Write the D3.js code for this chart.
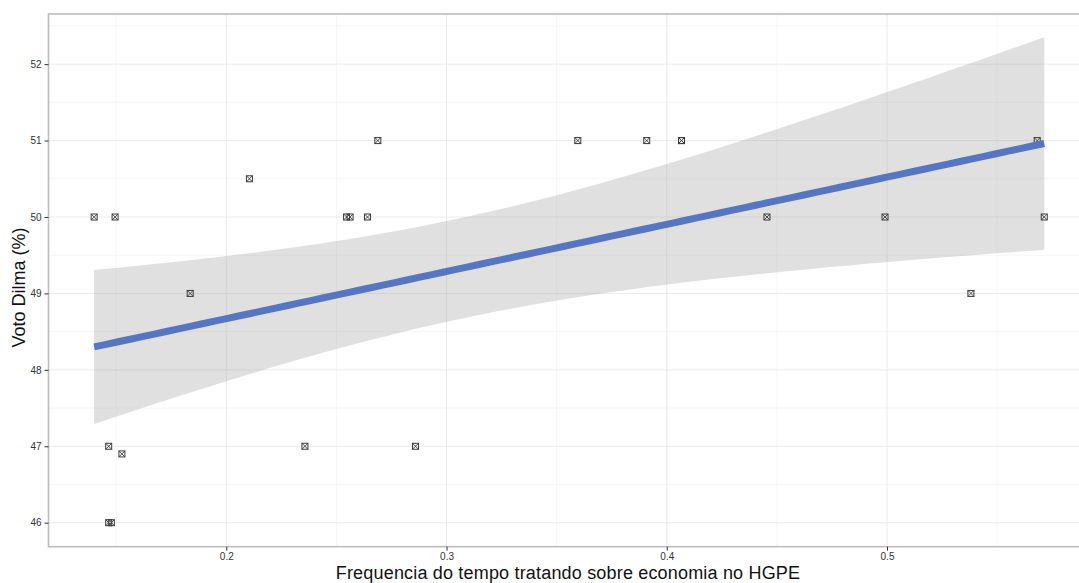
<!DOCTYPE html>
<html>
<head>
<meta charset="utf-8">
<script src="https://cdn.jsdelivr.net/npm/d3@7"></script>
<style>
  html, body { margin: 0; padding: 0; background: #fff; overflow: hidden; }
  svg { display: block; }
</style>
</head>
<body>
<svg id="chart" width="1079" height="583"></svg>
<script>
// Share of HGPE time spent on the economy vs. Dilma's vote share
const freqEconomia = [0.1400, 0.1495, 0.1466, 0.1526, 0.1466, 0.1478, 0.1836, 0.2105,
                      0.2357, 0.2546, 0.2562, 0.2641, 0.2688, 0.2859, 0.3596, 0.3909,
                      0.4067, 0.4067, 0.4455, 0.4991, 0.5381, 0.5682, 0.5714];
const votoDilma    = [50, 50, 47, 46.9, 46, 46, 49, 50.5,
                      47, 50, 50, 50, 51, 47, 51, 51,
                      51, 51, 50, 50, 49, 51, 50];

const xTicks = [0.2, 0.3, 0.4, 0.5];
const xMinor = [0.15, 0.25, 0.35, 0.45, 0.55];
const yTicks = [46, 47, 48, 49, 50, 51, 52];
const yMinor = [46.5, 47.5, 48.5, 49.5, 50.5, 51.5, 52.5];

const xTitle = "Frequencia do tempo tratando sobre economia no HGPE";
const yTitle = "Voto Dilma (%)";

// t quantile (0.975) for n - 2 = 21 degrees of freedom
const tCrit = 2.0796;

const svg = d3.select("#chart");

const panel = { left: 48.5, top: 14, right: 1092, bottom: 546.7 };

const x = d3.scaleLinear().domain([0.2, 0.5]).range([226.3, 887]);
const y = d3.scaleLinear().domain([46, 50]).range([522.7, 217]);

// panel background and grid
svg.append("rect")
  .attr("x", panel.left).attr("y", panel.top)
  .attr("width", panel.right - panel.left).attr("height", panel.bottom - panel.top)
  .attr("fill", "#fff");

const grid = svg.append("g");
grid.selectAll(".xminor").data(xMinor).join("line")
  .attr("x1", d => x(d)).attr("x2", d => x(d))
  .attr("y1", panel.top).attr("y2", panel.bottom)
  .attr("stroke", "#f6f6f6").attr("stroke-width", 1);
grid.selectAll(".yminor").data(yMinor.filter(v => y(v) > panel.top)).join("line")
  .attr("y1", d => y(d)).attr("y2", d => y(d))
  .attr("x1", panel.left).attr("x2", panel.right)
  .attr("stroke", "#f6f6f6").attr("stroke-width", 1);
grid.selectAll(".xmajor").data(xTicks).join("line")
  .attr("x1", d => x(d)).attr("x2", d => x(d))
  .attr("y1", panel.top).attr("y2", panel.bottom)
  .attr("stroke", "#ebebeb").attr("stroke-width", 1);
grid.selectAll(".ymajor").data(yTicks).join("line")
  .attr("y1", d => y(d)).attr("y2", d => y(d))
  .attr("x1", panel.left).attr("x2", panel.right)
  .attr("stroke", "#ebebeb").attr("stroke-width", 1);

// linear fit with 95% confidence band
const pts = freqEconomia.map((v, i) => [v, votoDilma[i]]);
const n = pts.length;
const mx = d3.mean(pts, d => d[0]);
const my = d3.mean(pts, d => d[1]);
const sxx = d3.sum(pts, d => (d[0] - mx) ** 2);
const sxy = d3.sum(pts, d => (d[0] - mx) * (d[1] - my));
const slope = sxy / sxx;
const intercept = my - slope * mx;
const rss = d3.sum(pts, d => (d[1] - (intercept + slope * d[0])) ** 2);
const s = Math.sqrt(rss / (n - 2));

const [xLo, xHi] = d3.extent(freqEconomia);
const fit = d3.range(80).map(i => {
  const xv = xLo + (xHi - xLo) * i / 79;
  const yv = intercept + slope * xv;
  const se = s * Math.sqrt(1 / n + (xv - mx) ** 2 / sxx);
  return { x: xv, y: yv, lo: yv - tCrit * se, hi: yv + tCrit * se };
});

svg.append("path")
  .datum(fit)
  .attr("d", d3.area().x(d => x(d.x)).y0(d => y(d.lo)).y1(d => y(d.hi)))
  .attr("fill", "#999").attr("fill-opacity", 0.3);

// points: square with a cross
const pg = svg.append("g");
const h = 3;
pg.selectAll("g").data(pts).join("g")
  .attr("transform", d => `translate(${x(d[0])},${y(d[1])})`)
  .each(function () {
    const g = d3.select(this);
    g.append("rect").attr("x", -h).attr("y", -h).attr("width", 2 * h).attr("height", 2 * h)
      .attr("fill", "none").attr("stroke", "#3a3a3a").attr("stroke-width", 1);
    g.append("path").attr("d", `M${-h},${-h}L${h},${h}M${-h},${h}L${h},${-h}`)
      .attr("stroke", "#3a3a3a").attr("stroke-width", 0.9);
  });

svg.append("path")
  .datum(fit)
  .attr("d", d3.line().x(d => x(d.x)).y(d => y(d.y)))
  .attr("fill", "none").attr("stroke", "#5676c2").attr("stroke-width", 7);

// panel border
svg.append("rect")
  .attr("x", panel.left).attr("y", panel.top)
  .attr("width", panel.right - panel.left).attr("height", panel.bottom - panel.top)
  .attr("fill", "none").attr("stroke", "#bdbdbd").attr("stroke-width", 1.6);

// axes
const xAxis = svg.append("g")
  .attr("transform", `translate(0,${panel.bottom})`)
  .call(d3.axisBottom(x).tickValues(xTicks).tickSize(4).tickPadding(2.6).tickFormat(d3.format(".1f")));
const yAxis = svg.append("g")
  .attr("transform", `translate(${panel.left},0)`)
  .call(d3.axisLeft(y).tickValues(yTicks).tickSize(4).tickPadding(3).tickFormat(d3.format("d")));

[xAxis, yAxis].forEach(a => {
  a.select(".domain").remove();
  a.selectAll(".tick line").attr("stroke", "#333");
  a.selectAll(".tick text")
    .attr("fill", "#333")
    .style("font-family", "'Liberation Sans', Arial, sans-serif")
    .style("font-size", "10px");
});

svg.append("text")
  .attr("x", 568).attr("y", 579)
  .attr("text-anchor", "middle")
  .style("font-family", "'Liberation Sans', Arial, sans-serif")
  .style("font-size", "18px")
  .style("letter-spacing", "0.18px")
  .attr("fill", "#111")
  .text(xTitle);

svg.append("text")
  .attr("transform", "translate(25,287.5) rotate(-90)")
  .attr("text-anchor", "middle")
  .style("font-family", "'Liberation Sans', Arial, sans-serif")
  .style("font-size", "18px")
  .attr("fill", "#111")
  .text(yTitle);
</script>
</body>
</html>
